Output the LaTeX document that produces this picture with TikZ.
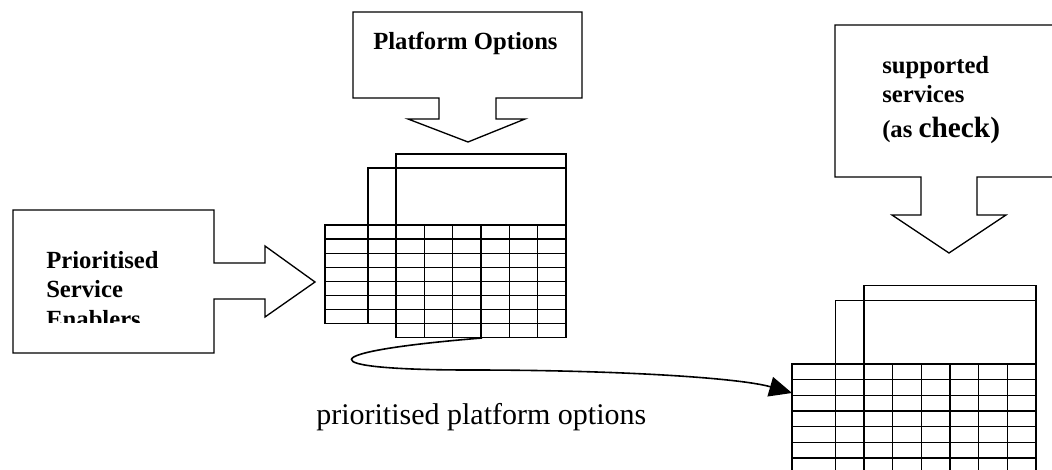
\documentclass[tikz,border=0pt]{standalone}
\usepackage{fontspec}
\setmainfont{Liberation Serif}
\usetikzlibrary{arrows.meta}

\tikzset{
	box/.style={line width=1pt},
	gridline/.style={line width=1pt, line cap=rect},
	boldtext/.style={font=\fontsize{18.5}{22}\selectfont\bfseries, inner sep=0pt, anchor=base west},
	plaintext/.style={font=\fontsize{22.5}{27}\selectfont, inner sep=0pt, anchor=base west},
	flow/.style={line width=1.2pt, -{Triangle[length=17pt,width=15pt]}}
}

% option table, local origin at top left of the table body
\newcommand{\optable}{%
	\draw [gridline] (71,-71) -- (241,-71);
	\draw [gridline] (43,-57) -- (241,-57);
	\draw [gridline] (71,-71) -- (71,112.8);
	\draw [gridline] (241,-71) -- (241,112.8);
	\draw [gridline] (43,-57) -- (43,98.7);
	\draw [gridline] (0,0) -- (0,98.7);
	\foreach \r in {0,...,7}
		\draw [gridline] (0,14.1*\r) -- (241,14.1*\r);
	\draw [gridline] (71,112.8) -- (241,112.8);
	\foreach \c in {1,...,5}
		\draw [gridline] (71+28.33*\c,0) -- (71+28.33*\c,112.8);
}

\begin{document}
\begin{tikzpicture}[x=0.75pt,y=-0.75pt]

	\useasboundingbox (0,0) rectangle (1052,470);
	\clip (0,0) rectangle (1052,470);

	% enablers callout
	\draw [box] (13,210) -- (214,210) -- (214,263) -- (265,263) -- (265,246) -- (315,282)
		-- (265,317) -- (265,299) -- (214,299) -- (214,353) -- (13,353) -- cycle;
	\begin{scope}
		\clip (13,210) rectangle (214,322);
		\node [boldtext] (pse1) at (46,268) {Prioritised};
		\node [boldtext] (pse2) at (46,297) {Service};
		\node [boldtext] (pse3) at (46,327) {Enablers};
	\end{scope}

	% platform options callout
	\draw [box] (353,12) -- (582,12) -- (582,98) -- (496,98) -- (496,119) -- (525,119)
		-- (468,142) -- (408,119) -- (439,119) -- (439,98) -- (353,98) -- cycle;
	\node [boldtext] (po) at (373,50) {Platform Options};

	% supported services callout
	\draw [box] (1060,25) -- (835,25) -- (835,177) -- (921,177) -- (921,215) -- (892,215)
		-- (949,253) -- (1006,215) -- (977,215) -- (977,177) -- (1060,177);
	\node [boldtext] (ss1) at (882,74) {supported};
	\node [boldtext] (ss2) at (882,103) {services};
	\node [boldtext] (ss3) at (882,138) {(as {\fontsize{22}{26}\selectfont check)}};

	% option tables
	\begin{scope}[shift={(325,225)}]
		\optable
	\end{scope}
	\begin{scope}[shift={(792,364)},xscale=1.012,yscale=1.11]
		\optable
	\end{scope}

	% prioritised options to check table
	\coordinate (optout) at (482,338);
	\coordinate (optin) at (792,393);
	\draw [flow] (optout) .. controls (310,352) and (310,370) .. (470,370)
		.. controls (620,370) and (740,378) .. (optin);
	\node [plaintext] (ppo) at (316,424) {prioritised platform options};

\end{tikzpicture}
\end{document}
